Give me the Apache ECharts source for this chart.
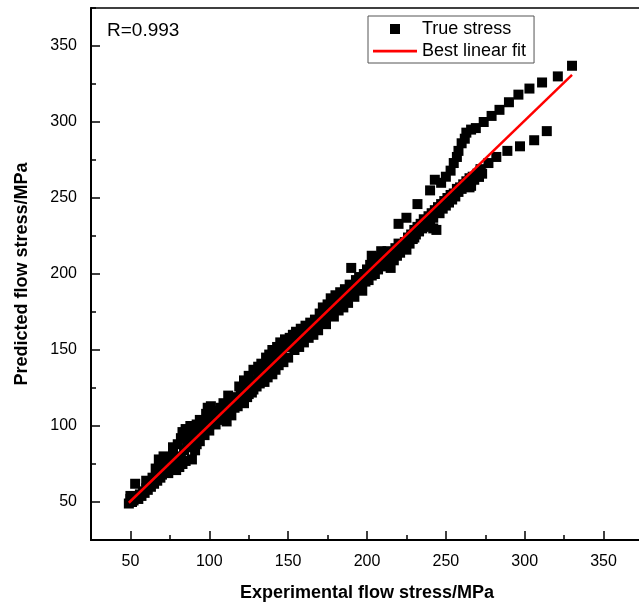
<!DOCTYPE html>
<html>
<head>
<meta charset="utf-8">
<script src="https://cdn.jsdelivr.net/npm/echarts@6/dist/echarts.min.js"></script>
<style>
html, body { margin: 0; padding: 0; background: #fff; }
#main { width: 639px; height: 606px; }
</style>
</head>
<body>
<div id="main"></div>
<script>
// [experimental, predicted] pairs
var bandLow = [[49,49],[50,52],[50,54],[51,50],[52,51],[53,62],[54,53],[55,52],[56,55],[57,54],[58,57],[59,56],[60,59],[60,64],[61,58],[62,61],[63,60],[64,63],[64,66],[65,62],[66,72],[66,65],[67,64],[68,70],[68,78],[69,66],[70,68],[71,80],[71,72],[72,70],[73,74],[74,69],[75,77],[76,73],[77,80],[77,86],[78,75],[79,71],[80,88],[80,78],[81,73],[82,92],[82,80],[83,96],[83,75],[84,84],[85,98],[85,77],[86,90],[87,94],[88,100],[88,86],[89,78],[90,92],[91,98],[91,84],[92,101],[92,88],[93,95],[94,104],[94,90],[95,97],[96,102],[97,94],[98,108],[98,99],[99,112],[100,101],[100,97]];
var bandMid = [[101,113],[102,104],[103,108],[104,101],[105,110],[106,104],[107,112],[108,106],[109,115],[110,108],[111,103],[112,120],[112,110],[113,114],[114,107],[115,117],[116,112],[117,119],[118,113],[119,126],[119,116],[120,122],[121,118],[122,130],[122,115],[123,124],[124,119],[125,133],[125,121],[126,128],[127,122],[128,137],[128,124],[129,130],[130,126],[131,139],[131,132],[132,128],[133,141],[134,135],[135,129],[136,145],[136,138],[137,132],[138,147],[139,140],[140,150],[140,134],[141,143],[142,137],[143,152],[143,146],[144,140],[145,155],[146,148],[147,142],[148,157],[149,152],[150,145],[151,158],[152,154],[153,160],[154,150],[155,162],[156,156],[157,152],[158,164],[159,159],[160,155],[161,166],[162,162],[163,158],[164,168],[165,164],[166,160],[167,170],[168,166],[169,163],[170,174],[171,168],[172,178],[173,171],[174,167],[175,180],[176,174],[177,184],[178,177],[179,172],[180,186],[181,180],[182,176],[183,188],[184,182],[185,178],[186,190],[187,185],[188,181],[189,193],[190,204],[190,187]];
var bandHigh = [[191,192],[192,185],[193,196],[194,190],[195,198],[196,193],[197,189],[198,200],[199,195],[200,203],[201,196],[202,206],[203,212],[203,199],[204,204],[205,200],[206,209],[207,203],[208,211],[209,215],[209,205],[210,208],[211,212],[212,206],[213,215],[214,210],[215,204],[216,213],[217,209],[218,217],[219,212],[220,220],[221,214],[222,218],[223,219],[224,221],[225,216],[226,224],[227,220],[228,226],[229,223],[230,229],[230,224],[231,226],[232,231],[233,228],[234,233],[235,230],[236,236],[236,231],[237,233],[238,235],[239,238],[240,232],[241,240],[242,237],[242,230],[243,242],[244,229],[245,244],[246,240],[247,246],[248,243],[249,248],[250,245],[251,250],[252,247],[253,252],[254,249],[255,253],[256,251],[257,256],[258,254],[259,257],[260,256],[261,259],[262,258],[263,261],[264,259],[265,263],[265,257],[266,261],[267,264],[268,262],[270,266],[271,264],[272,268],[273,266]];
var upperBranch = [[220,233],[225,237],[232,246],[240,255],[243,262],[247,260],[250,264],[253,268],[255,273],[257,277],[258,281],[260,286],[262,289],[263,293],[266,295],[269,296],[274,300],[279,304],[284,308],[290,313],[296,318],[303,322],[311,326],[321,330],[330,337]];
var lowerBranch = [[266,258],[271,264],[272,269],[277,273],[282,277],[289,281],[297,284],[306,288],[314,294]];
var fitX = [49, 330];
var fitY = [49.5, 331];
var tickValues = [50, 100, 150, 200, 250, 300, 350];
var rText = 'R=0.993';

var font = "'Liberation Sans', Arial, sans-serif";
var trueStress = bandLow.concat(bandMid, bandHigh, upperBranch, lowerBranch);
var fitLine = fitX.map(function (x, i) { return [x, fitY[i]]; });

function mainAxis(pos, nameText, nameGap) {
    return {
        type: 'value', position: pos, min: 25, max: 375, interval: 25,
        name: nameText, nameLocation: 'middle', nameGap: nameGap,
        nameTextStyle: { fontFamily: font, fontSize: 18, fontWeight: 'bold', color: '#000' },
        axisLine: { show: true, lineStyle: { color: '#000', width: 2 } },
        axisTick: { show: true, inside: true, length: 5, lineStyle: { color: '#000', width: 1.5 } },
        axisLabel: { customValues: tickValues, margin: 14, fontFamily: font, fontSize: 16, color: '#000' },
        splitLine: { show: false }
    };
}
function majorTicks(pos) {
    return {
        type: 'value', position: pos, min: 25, max: 375, interval: 25,
        axisLine: { show: false },
        axisTick: { show: true, inside: true, length: 9, customValues: tickValues, lineStyle: { color: '#000', width: 1.5 } },
        axisLabel: { show: false },
        splitLine: { show: false }
    };
}

var chart = echarts.init(document.getElementById('main'));
var option = {
    animation: false,
    backgroundColor: '#fff',
    grid: {
        left: 91, right: -4, top: 8, bottom: 66,
        show: true, borderColor: '#000', borderWidth: 1.5,
        outerBoundsMode: 'none'
    },
    xAxis: [mainAxis('bottom', 'Experimental flow stress/MPa', 44), majorTicks('bottom')],
    yAxis: [mainAxis('left', 'Predicted flow stress/MPa', 60), majorTicks('left')],
    legend: {
        left: 368, top: 16, orient: 'vertical',
        itemWidth: 44, itemHeight: 12, itemGap: 4,
        padding: [4, 8, 3, 5],
        borderColor: '#555', borderWidth: 1,
        textStyle: { fontFamily: font, fontSize: 18, color: '#000' },
        data: [
            { name: 'True stress', icon: 'path://M0,0M44,0M44,12M0,12M17,1h10v10h-10z' },
            { name: 'Best linear fit', icon: 'path://M0,0M44,0M44,12M0,12M0,4.8h44v2.6h-44z' }
        ]
    },
    graphic: [{
        type: 'text', left: 107, top: 21,
        style: { text: rText, fontFamily: font, fontSize: 19, fill: '#000' }
    }],
    series: [{
        name: 'True stress', type: 'scatter',
        symbol: 'rect', symbolSize: 10,
        itemStyle: { color: '#000', opacity: 1 },
        data: trueStress
    }, {
        name: 'Best linear fit', type: 'line',
        showSymbol: false, symbol: 'none',
        itemStyle: { color: '#ff0000' },
        lineStyle: { color: '#ff0000', width: 2.5 },
        data: fitLine
    }]
};
chart.setOption(option);
</script>
</body>
</html>
